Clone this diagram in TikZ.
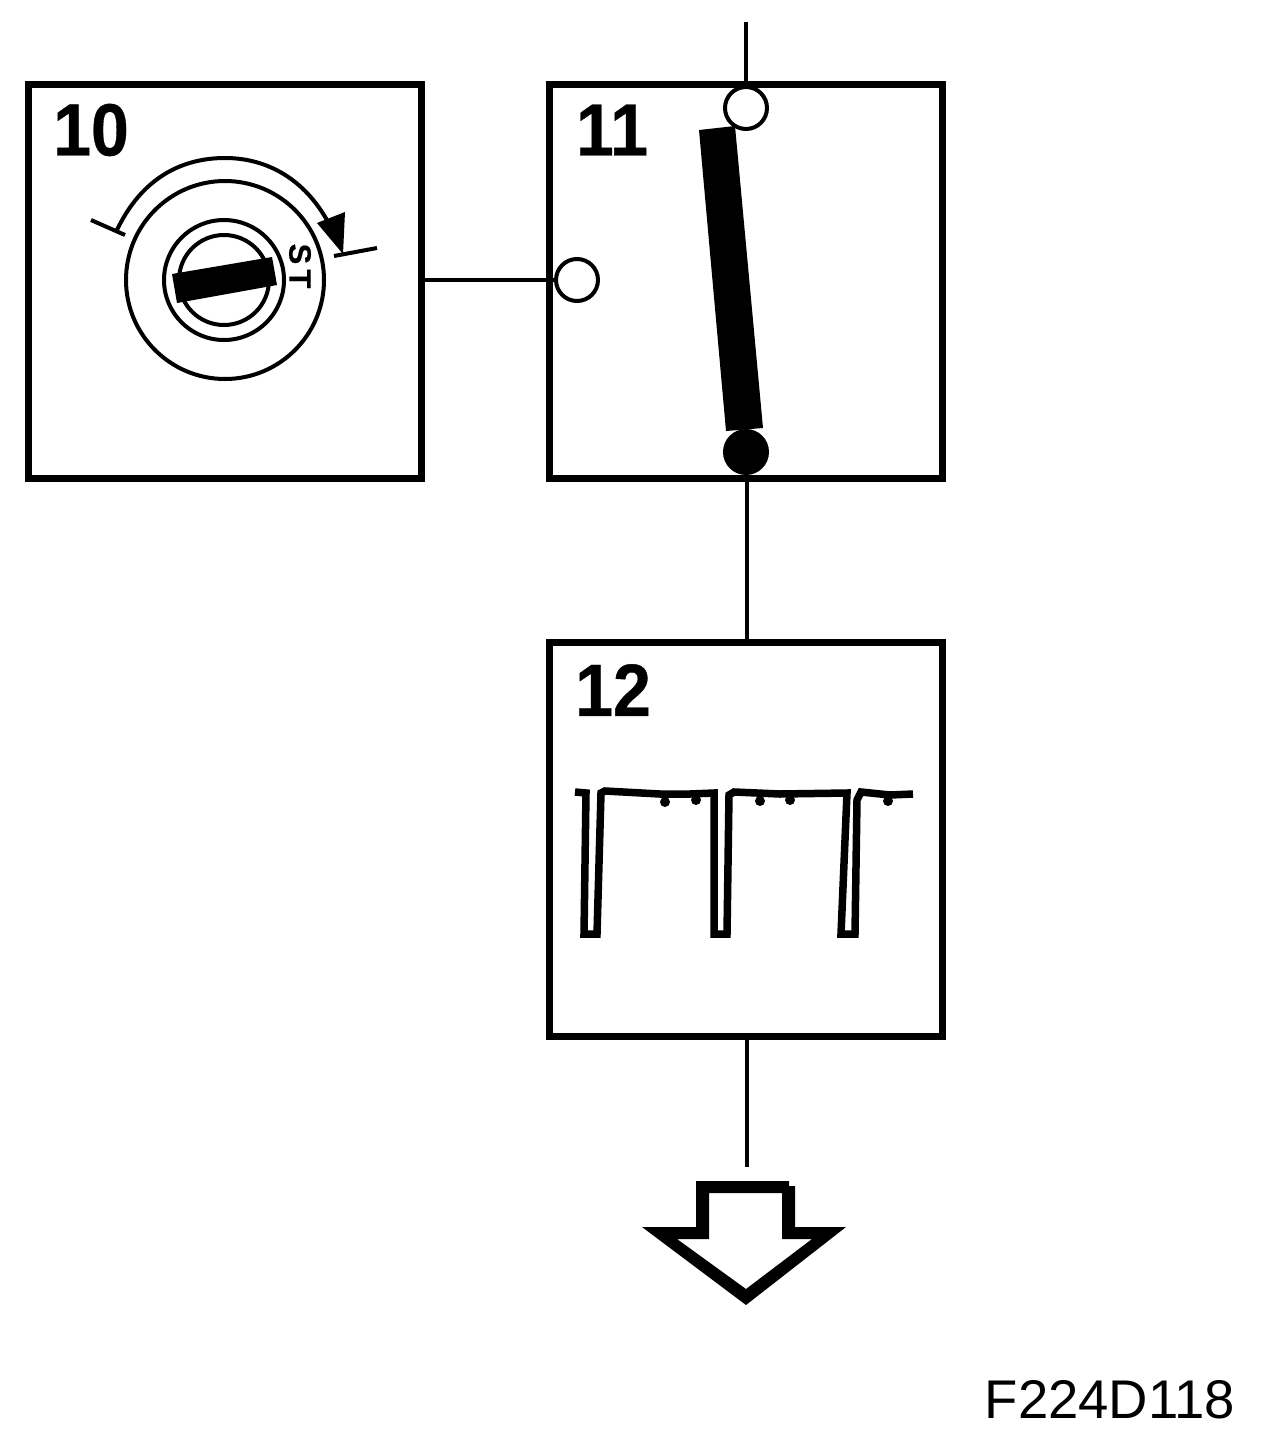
\documentclass[tikz,border=0pt]{standalone}
\usepackage{fontspec}
\setmainfont{Liberation Sans}
\newfontfamily\numfont[FakeBold=0.5]{Liberation Sans Bold}
\usetikzlibrary{positioning, calc}

\tikzset{
  blockbox/.style={draw, line width=7pt, minimum width=393pt, minimum height=394pt, inner sep=0pt},
  blocklabel/.style={font=\fontsize{74}{74}\numfont, inner sep=0pt, xscale=0.92},
  contact/.style={circle, draw, line width=4pt, fill=white, minimum size=42pt, inner sep=0pt},
  wire/.style={line width=4pt}
}

\begin{document}
\begin{tikzpicture}[x=1pt, y=-1pt]
\useasboundingbox (0,0) rectangle (1264,1438);

% Draw the three blocks
\node[blockbox] (box10) at (225,281) {};
\node[blockbox] (box11) at (746,281) {};
\node[blockbox] (box12) at (746,839) {};

% Block numbers
\foreach \x/\y/\nm/\txt in {91/130/lab10/10, 612/130/lab11/11, 613/690/lab12/12}
  \node[blocklabel] (\nm) at (\x,\y) {\txt};

% Key switch
\draw[line width=4pt] (225,280) circle (99);
\draw[line width=4pt] (224,280) circle (60);
\draw[line width=4pt] (224,280) circle (45);
\fill (172,274) -- (272,257) -- (277,285) -- (177,303) -- cycle;

% Travel of the key
\draw[line width=4pt] (116,232) .. controls (142,176) and (184,158) .. (225,158)
  .. controls (268,158) and (305,180) .. (328,222);
\draw[line width=4pt] (91,220) -- (125,235);
\draw[line width=4pt] (334,256) -- (377,248);
\fill (317,223) -- (345,212) -- (343,254) -- cycle;
\node[font=\fontsize{31}{31}\numfont, rotate=-90, inner sep=0pt] (start) at (300,266) {S\,T};

% Switch contacts and lever
\fill (699,130) -- (735,126) -- (763,428) -- (726,431) -- cycle;
\node[contact] (upCirc) at (746,108) {};
\node[contact] (midCirc) at (577,280) {};
\node[contact, fill=black] (lowCirc) at (746,452) {};

% Wires between the blocks
\coordinate (topEnd) at (746,22);
\coordinate (lowEnd) at (747,480);
\coordinate (downEnd) at (747,1167);
\draw[wire] (topEnd) -- (upCirc);
\draw[wire] (box10.east |- midCirc) -- (midCirc);
\draw[wire] (lowEnd) -- (lowEnd |- box12.north);
\draw[wire] (downEnd |- box12.south) -- (downEnd);

% Pulse train
\draw[line width=7.5pt] (575,792) -- (586,793) -- (584,934) -- (597,934) -- (601,793)
  -- (605,791) -- (660,794) -- (690,794) -- (714,793) -- (714,934) -- (727,934) -- (729,795)
  -- (734,792) -- (780,794) -- (847,793) -- (841,934) -- (855,934) -- (857,800) -- (861,792)
  -- (890,795) -- (913,794);
\foreach \x/\y in {665/802, 696/800, 760/801, 790/800, 888/801}
  \fill (\x,\y) circle (5);

% Output arrow
\fill[even odd rule] (696,1181) -- (789,1181) -- (789,1186) -- (795,1186) -- (795,1227)
  -- (846,1227) -- (746,1305) -- (642,1227) -- (696,1227) -- cycle
  (709,1193) -- (782,1193) -- (782,1239) -- (812,1239) -- (746,1289) -- (677,1239) -- (709,1239) -- cycle;

% Figure code
\node[font=\fontsize{54.5}{55}\selectfont, inner sep=0pt] (figcode) at (1110,1400) {F224D118};

\end{tikzpicture}
\end{document}
